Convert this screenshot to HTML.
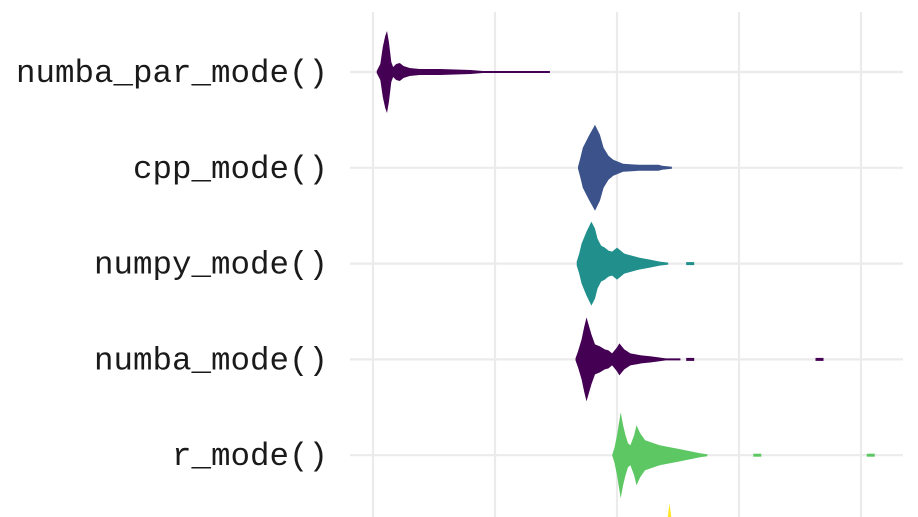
<!DOCTYPE html>
<html><head><meta charset="utf-8"><style>
html,body{margin:0;padding:0;background:#fff;overflow:hidden;width:918px;height:517px;}
svg{display:block;}
</style></head><body>
<svg id="chart" width="918" height="517" viewBox="0 0 918 517" xmlns="http://www.w3.org/2000/svg" style="overflow:hidden">
<defs><clipPath id="plotclip"><rect x="0" y="0" width="918" height="517"/></clipPath></defs>
<g id="plot" clip-path="url(#plotclip)"></g>
</svg>
<script>
// data (x in value units, width in density units)
const categories = ["numba_par_mode()","cpp_mode()","numpy_mode()","numba_mode()","r_mode()","extra"];
const colors = ["#440154","#3b528b","#21908c","#440154","#5dc863","#fde725"];
const xTicks = [0,1,2,3,4];
const profX0 = [0.03,0.06,0.08,0.1,0.115,0.13,0.15,0.165,0.19,0.22,0.25,0.3,0.38,0.55,0.8,0.9,1.34,1.45];
const profW0 = [1,8,25,36,41,30,10,5,8,9,6,4,3,3,2,1,1,1];
const profX1 = [1.68,1.70,1.72,1.77,1.82,1.86,1.89,1.93,1.97,2.05,2.18,2.34,2.37,2.45];
const profW1 = [1,10,20,32,43,33,20,12,8,4,3,3,2,1];
const profX2 = [1.67,1.69,1.71,1.75,1.79,1.82,1.84,1.87,1.90,1.93,1.96,2.00,2.03,2.06,2.12,2.18,2.27,2.35,2.42];
const profW2 = [2,10,20,32,42,35,25,18,16,13,12,16,13,10,8,6,4,2,1];
const profX3 = [1.66,1.68,1.71,1.73,1.75,1.79,1.82,1.86,1.90,1.93,1.96,2.00,2.02,2.06,2.11,2.2,2.28,2.40,2.52];
const profW3 = [1,8,20,32,42,25,15,13,10,9,6,12,16,10,6,4,3,1,1];
const profX4 = [1.96,1.98,2.0,2.02,2.03,2.05,2.07,2.09,2.11,2.14,2.16,2.19,2.23,2.35,2.52,2.68,2.74];
const profW4 = [0,8,20,35,43,30,20,12,10,20,30,22,15,10,6,2,1];
const profX5 = [2.38,2.43,2.48];
const profW5 = [0,48,0];
const profiles = [[profX0,profW0],[profX1,profW1],[profX2,profW2],[profX3,profW3],[profX4,profW4],[profX5,profW5]];
const dotsX = [[],[],[2.6],[2.6,3.66],[3.15,4.08],[]];

const svg = document.getElementById('plot');
const NS = 'http://www.w3.org/2000/svg';
const xS = v => 373 + v * 122;
const yS = i => 72 + i * 95.8;
const wS = w => w;
function mk(t, a){const e=document.createElementNS(NS,t);for(const k in a)e.setAttribute(k,a[k]);svg.appendChild(e);return e;}

xTicks.forEach((t,i)=>{
  const g = mk('line',{x1:xS(t),x2:xS(t),y1:12,y2:517,stroke:'#ebebeb','stroke-width':2.2});
  
  
});
categories.slice(0,5).forEach((c,i)=>{
  const g = mk('line',{x1:350,x2:903,y1:yS(i),y2:yS(i),stroke:'#ebebeb','stroke-width':2.2});
  
  
  const t = mk('text',{x:328,y:yS(i)+10,'text-anchor':'end','font-family':'"Liberation Mono", monospace','font-size':32.5,fill:'#1a1a1a'});
  t.textContent = c;
  
  
});
profiles.forEach((p,i)=>{
  const [xs,ws]=p, y=yS(i);
  const top = xs.map((x,j)=>[xS(x), y - wS(ws[j])]);
  const bot = xs.map((x,j)=>[xS(x), Math.min(517, y + wS(ws[j]))]).reverse();
  const pts = top.concat(bot).map(q=>q[0].toFixed(1)+','+q[1].toFixed(1)).join(' ');
  const v = mk('polygon',{points:pts,fill:colors[i]});
  
  
  dotsX[i].forEach((d,k)=>{
    const r = mk('rect',{x:xS(d)-4,y:y-1.5,width:8,height:3,fill:colors[i]});
    
    
  });
});
</script>
</body></html>
